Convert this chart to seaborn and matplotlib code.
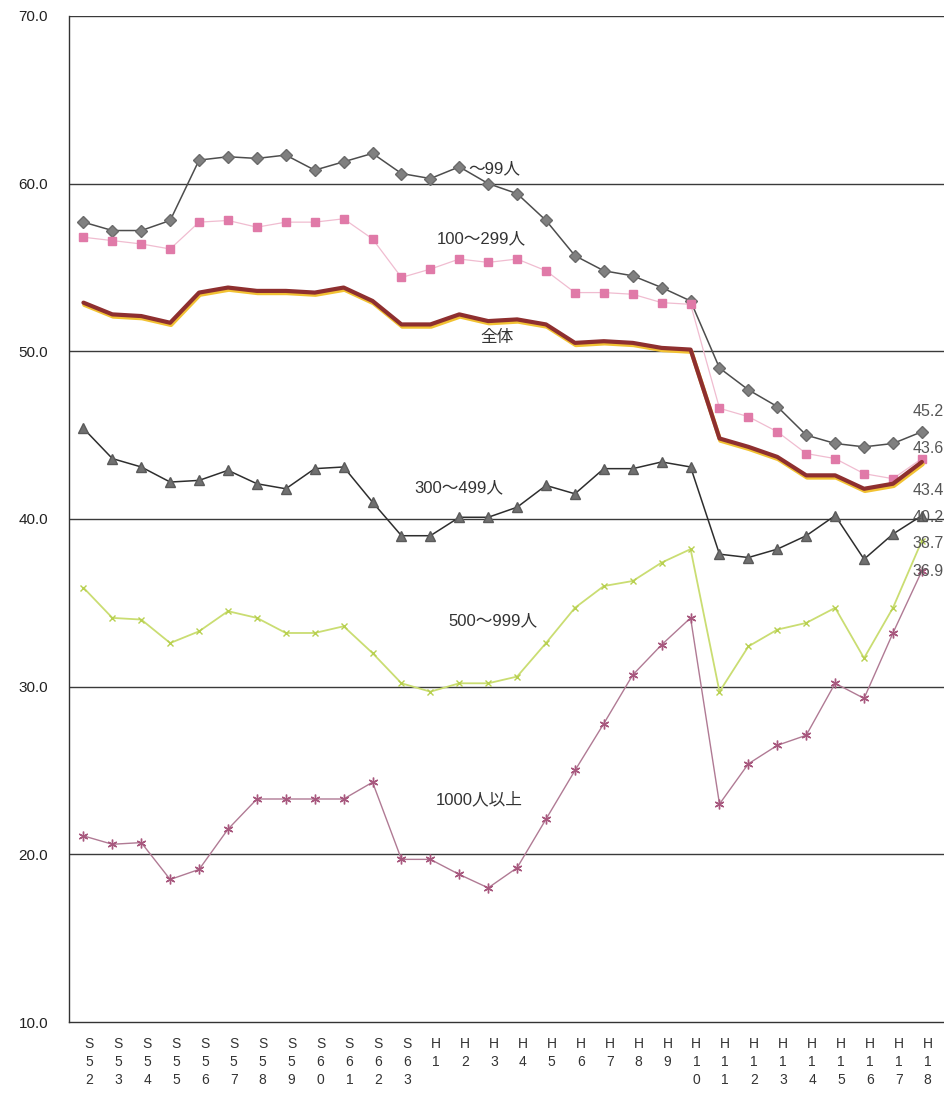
import numpy as np
import pandas as pd
import matplotlib
matplotlib.use("Agg")
import matplotlib.pyplot as plt
import matplotlib.patheffects as pe
import seaborn as sns

# Fiscal years: Showa 52-63, Heisei 1-18
years = ["S52", "S53", "S54", "S55", "S56", "S57", "S58", "S59", "S60", "S61",
         "S62", "S63", "H1", "H2", "H3", "H4", "H5", "H6", "H7", "H8", "H9",
         "H10", "H11", "H12", "H13", "H14", "H15", "H16", "H17", "H18"]

size_99 = [57.7, 57.2, 57.2, 57.8, 61.4, 61.6, 61.5, 61.7, 60.8, 61.3,
           61.8, 60.6, 60.3, 61.0, 60.0, 59.4, 57.8, 55.7, 54.8, 54.5,
           53.8, 53.0, 49.0, 47.7, 46.7, 45.0, 44.5, 44.3, 44.5, 45.2]
size_299 = [56.8, 56.6, 56.4, 56.1, 57.7, 57.8, 57.4, 57.7, 57.7, 57.9,
            56.7, 54.4, 54.9, 55.5, 55.3, 55.5, 54.8, 53.5, 53.5, 53.4,
            52.9, 52.8, 46.6, 46.1, 45.2, 43.9, 43.6, 42.7, 42.4, 43.6]
size_all = [52.9, 52.2, 52.1, 51.7, 53.5, 53.8, 53.6, 53.6, 53.5, 53.8,
            53.0, 51.6, 51.6, 52.2, 51.8, 51.9, 51.6, 50.5, 50.6, 50.5,
            50.2, 50.1, 44.8, 44.3, 43.7, 42.6, 42.6, 41.8, 42.1, 43.4]
size_499 = [45.4, 43.6, 43.1, 42.2, 42.3, 42.9, 42.1, 41.8, 43.0, 43.1,
            41.0, 39.0, 39.0, 40.1, 40.1, 40.7, 42.0, 41.5, 43.0, 43.0,
            43.4, 43.1, 37.9, 37.7, 38.2, 39.0, 40.2, 37.6, 39.1, 40.2]
size_999 = [35.9, 34.1, 34.0, 32.6, 33.3, 34.5, 34.1, 33.2, 33.2, 33.6,
            32.0, 30.2, 29.7, 30.2, 30.2, 30.6, 32.6, 34.7, 36.0, 36.3,
            37.4, 38.2, 29.7, 32.4, 33.4, 33.8, 34.7, 31.7, 34.7, 38.7]
size_1000 = [21.1, 20.6, 20.7, 18.5, 19.1, 21.5, 23.3, 23.3, 23.3, 23.3,
             24.3, 19.7, 19.7, 18.8, 18.0, 19.2, 22.1, 25.0, 27.8, 30.7,
             32.5, 34.1, 23.0, 25.4, 26.5, 27.1, 30.2, 29.3, 33.2, 36.9]

series_names = ["～99人", "100～299人", "全体", "300～499人", "500～999人", "1000人以上"]
series_values = [size_99, size_299, size_all, size_499, size_999, size_1000]

sns.set_theme(style="white")
plt.rcParams["font.family"] = ["Liberation Sans", "Noto Sans CJK JP", "DejaVu Sans"]

fig = plt.figure(figsize=(9.45, 10.96), dpi=100)
ax = fig.add_axes([0.073, 0.0675, 0.927, 0.918])

pos = np.arange(len(years))
df = pd.DataFrame({"pos": np.tile(pos, len(series_names)),
                   "rate": np.concatenate(series_values),
                   "size": np.repeat(series_names, len(years))})

styles = {
    "～99人": dict(color="#4d4d4d", lw=1.1, marker="D", ms=6, mfc="#808080", mec="#6a6a6a"),
    "100～299人": dict(color="#f0bcd0", lw=0.9, marker="s", ms=5.5, mfc="#e07aa8", mec="#e07aa8"),
    "全体": dict(color="#8e2f2f", lw=3.0, marker=None, ms=0, mfc="none", mec="none"),
    "300～499人": dict(color="#2e2e2e", lw=1.1, marker="^", ms=7.5, mfc="#707070", mec="#5a5a5a"),
    "500～999人": dict(color="#cadd72", lw=1.3, marker="x", ms=5, mfc="#b8d050", mec="#b8d050"),
    "1000人以上": dict(color="#b07a94", lw=1.0, marker=(6, 2, 0), ms=7, mfc="#a8587e", mec="#a8587e"),
}

for name in series_names:
    st = styles[name]
    sub = df[df["size"] == name]
    kw = {}
    if st["marker"] is not None:
        kw = dict(marker=st["marker"], markersize=st["ms"], markerfacecolor=st["mfc"],
                  markeredgecolor=st["mec"], markeredgewidth=1.0)
    sns.lineplot(data=sub, x="pos", y="rate", ax=ax, color=st["color"],
                 linewidth=st["lw"], legend=False, zorder=3, **kw)
    if name == "全体":
        ax.lines[-1].set_path_effects([
            pe.SimpleLineShadow(offset=(0.6, -1.6), shadow_color="#f2c233", alpha=1.0, rho=1.0),
            pe.Normal()])

# Series name labels placed beside their lines
name_pos = {
    "～99人": (14.2, 60.85),
    "100～299人": (13.75, 56.7),
    "全体": (14.3, 50.8),
    "300～499人": (13.0, 41.85),
    "500～999人": (14.15, 33.9),
    "1000人以上": (13.7, 23.3),
}
for name in series_names:
    x, y = name_pos[name]
    ax.text(x, y, name, ha="center", va="center", fontsize=12, color="#333333", zorder=5)

# Latest-year values at the right end
end_label_y = [46.4, 44.2, 41.7, 40.1, 38.55, 36.85]
end_order = [size_99, size_299, size_all, size_499, size_999, size_1000]
for vals, ly in zip(end_order, end_label_y):
    ax.text(28.68, ly, f"{vals[-1]:.1f}", ha="left", va="center", fontsize=11.5,
            color="#555555", zorder=5)

ax.set_xlim(-0.5, 29.8)
ax.set_ylim(10, 70)
ax.set_yticks(np.arange(10, 71, 10))
ax.set_yticklabels([f"{v:.1f}" for v in np.arange(10, 71, 10)], fontsize=11, color="#222222")
for v in range(20, 71, 10):
    ax.axhline(v, color="#3a3a3a", lw=1.0, zorder=1)

# Year labels sit slightly right of each category centre (tick marks hidden)
ax.set_xticks(pos + 0.2)
ax.set_xticklabels(["\n".join(list(y)) for y in years], fontsize=10, color="#333333",
                   linespacing=1.35, va="top")
ax.set_xticks(np.arange(-0.5, 29.6, 1.0), minor=True)
ax.tick_params(axis="x", which="major", length=0, pad=11)
ax.tick_params(axis="x", which="minor", direction="in", length=4, color="#333333", width=0.8)
ax.tick_params(axis="y", length=0, pad=15)
ax.set_xlabel("")
ax.set_ylabel("")

for side in ["top", "right"]:
    ax.spines[side].set_visible(False)
ax.spines["left"].set_color("#333333")
ax.spines["left"].set_linewidth(1.0)
ax.spines["bottom"].set_color("#333333")
ax.spines["bottom"].set_linewidth(1.0)

fig.savefig("out.png", dpi=100, facecolor="white")
